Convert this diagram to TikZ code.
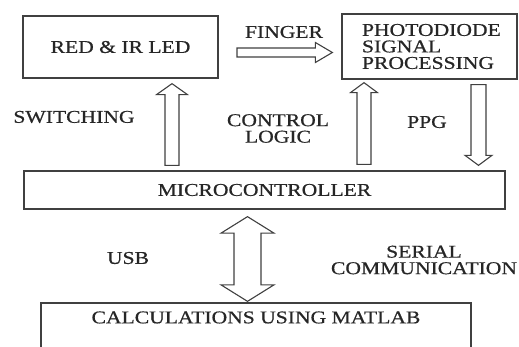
\documentclass[tikz,border=0pt]{standalone}
\usepackage{fontspec}
\setmainfont{Liberation Serif}[FakeStretch=1.2, FakeBold=0.6]
\usetikzlibrary{calc}

\tikzset{
  box/.style={draw=black!75, line width=1.3pt, inner sep=0pt},
  lbl/.style={inner sep=0pt, align=center, text=black!85},
  fat/.style={draw=black!75, line width=1.1pt, fill=white, line join=miter},
}

% hollow block arrow: #1 tail, #2 tip, #3 shaft half-width, #4 head half-width, #5 head length
\newcommand\fatarrow[5]{%
  \coordinate (fa-b) at ($(#2)!#5!(#1)$);
  \draw[fat] ($(#1)!#3!90:(#2)$) -- ($(fa-b)!#3!90:(#2)$) -- ($(fa-b)!#4!90:(#2)$) -- (#2)
    -- ($(fa-b)!#4!-90:(#2)$) -- ($(fa-b)!#3!-90:(#2)$) -- ($(#1)!#3!-90:(#2)$) -- cycle;}

% hollow double-headed block arrow between tips #1 and #2
\newcommand\fatdarrow[5]{%
  \coordinate (fa-a) at ($(#1)!#5!(#2)$);
  \coordinate (fa-b) at ($(#2)!#5!(#1)$);
  \draw[fat] (#1) -- ($(fa-a)!#4!90:(#1)$) -- ($(fa-a)!#3!90:(#1)$)
    -- ($(fa-b)!#3!-90:(#2)$) -- ($(fa-b)!#4!-90:(#2)$) -- (#2)
    -- ($(fa-b)!#4!90:(#2)$) -- ($(fa-b)!#3!90:(#2)$)
    -- ($(fa-a)!#3!-90:(#1)$) -- ($(fa-a)!#4!-90:(#1)$) -- cycle;}

\begin{document}
\begin{tikzpicture}[x=1pt, y=-1pt, font=\fontsize{18}{16.5}\selectfont]
\useasboundingbox (0,0) rectangle (519,347);
\clip (0,0) rectangle (519,347);

% blocks
\node[box, minimum width=195pt, minimum height=62pt, text=black!85] (led) at (120.5,47) {RED \& IR LED};
\node[box, minimum width=175pt, minimum height=65pt, text width=135pt, align=left, text=black!85] (pd) at (429.5,46.5)
  {PHOTODIODE\\SIGNAL\\PROCESSING};
\node[box, minimum width=481pt, minimum height=38pt, text=black!85] (mc) at (264.5,190) {MICROCONTROLLER};
\node[box, minimum width=430pt, minimum height=70pt,
  label={[anchor=base, yshift=-21pt, text=black!85, inner sep=0pt]north:CALCULATIONS USING MATLAB}] (calc) at (256,338) {};

% labels
\node[lbl] (tfinger) at (284,32) {FINGER};
\node[lbl] (tswitch) at (74,117) {SWITCHING};
\node[lbl] (tctrl) at (278,128.5) {CONTROL\\LOGIC};
\node[lbl] (tppg) at (427,122) {PPG};
\node[lbl] (tusb) at (128,258) {USB};
\node[lbl] (tser) at (424,260) {SERIAL\\COMMUNICATION};

% column positions of the vertical arrows
\coordinate (xsw) at (172,0);
\coordinate (xcl) at (364,0);
\coordinate (xppg) at (478.5,0);
\coordinate (xusb) at (247.5,0);
\coordinate (yfg) at (0,52.5);

% switching: microcontroller -> LEDs
\coordinate (sw-tail) at ($(mc.north -| xsw)+(0,-5)$);
\coordinate (sw-tip) at ($(led.south -| xsw)+(0,5)$);
\fatarrow{sw-tail}{sw-tip}{7pt}{15.5pt}{11pt}

% control logic: microcontroller -> photodiode stage
\coordinate (cl-tail) at ($(mc.north -| xcl)+(0,-6)$);
\coordinate (cl-tip) at ($(pd.south -| xcl)+(0,3)$);
\fatarrow{cl-tail}{cl-tip}{7pt}{13.5pt}{10pt}

% PPG: photodiode stage -> microcontroller
\coordinate (ppg-tail) at ($(pd.south -| xppg)+(0,5)$);
\coordinate (ppg-tip) at ($(mc.north -| xppg)+(0,-5)$);
\fatarrow{ppg-tail}{ppg-tip}{7.5pt}{13.5pt}{10pt}

% finger: light path into the photodiode
\coordinate (fg-tail) at (237,52.5);
\coordinate (fg-tip) at ($(pd.west |- yfg)+(-9,0)$);
\fatarrow{fg-tail}{fg-tip}{4.5pt}{10pt}{17pt}

% USB link: microcontroller <-> MATLAB
\coordinate (usb-a) at ($(mc.south -| xusb)+(0,7)$);
\coordinate (usb-b) at ($(calc.north -| xusb)+(0,-1)$);
\fatdarrow{usb-a}{usb-b}{13.5pt}{26.5pt}{16.5pt}
\end{tikzpicture}
\end{document}
